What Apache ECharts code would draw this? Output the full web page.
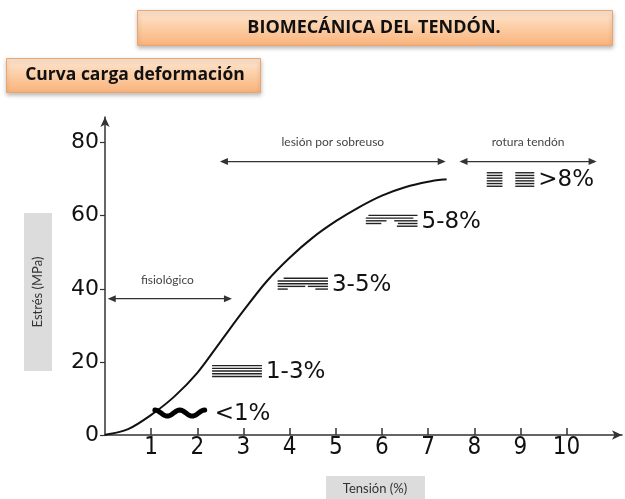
<!DOCTYPE html>
<html><head><meta charset="utf-8">
<script src="https://cdn.jsdelivr.net/npm/echarts@6/dist/echarts.min.js"></script>
<style>html,body{margin:0;padding:0;background:#fff}#c{width:625px;height:499px}</style>
</head><body><div id="c"></div>
<script>
// Curve: strain (%) vs stress (MPa)
var strain = [0, 0.5, 1, 1.5, 2, 2.5, 3, 3.5, 4, 4.5, 5, 5.5, 6, 6.5, 7, 7.4];
var stress = [0, 1.6, 5.5, 10.5, 17, 25.5, 34, 42, 48.5, 54, 58.5, 62.3, 65.5, 67.8, 69.3, 70];
var xTicks = [1, 2, 3, 4, 5, 6, 7, 8, 9, 10];
var yTicks = [0, 20, 40, 60, 80];

// Range annotations (data coords): from, to, at stress, label
var rangeNames = ['fisiológico', 'lesión por sobreuso', 'rotura tendón'];
var rangeFrom = [0.06, 2.49, 7.68];
var rangeTo = [2.75, 7.38, 10.65];
var rangeY = [37.3, 74.8, 74.8];

// Fibre-damage annotations: strain start/end of glyph, stress level, label
var dmgLabels = ['<1%', '1-3%', '3-5%', '5-8%', '>8%'];
var dmgFrom = [1.08, 2.32, 3.74, 5.65, 8.27];
var dmgTo = [2.16, 3.4, 4.83, 6.77, 9.3];
var dmgY = [6, 17.5, 41.4, 58.6, 69.9];

var chart = echarts.init(document.getElementById('c'));

// Smooth curve through the data points (Catmull-Rom in pixel space, via the axis scale)
function renderCurve(params, api) {
  if (params.dataIndex !== 0) return null;
  var p = strain.map(function (x, i) { return api.coord([x, stress[i]]); });
  var d = 'M' + p[0][0] + ' ' + p[0][1];
  for (var i = 0; i < p.length - 1; i++) {
    var p0 = p[Math.max(i - 1, 0)], p1 = p[i], p2 = p[i + 1], p3 = p[Math.min(i + 2, p.length - 1)];
    var c1x = p1[0] + (p2[0] - p0[0]) / 6, c1y = p1[1] + (p2[1] - p0[1]) / 6;
    var c2x = p2[0] - (p3[0] - p1[0]) / 6, c2y = p2[1] - (p3[1] - p1[1]) / 6;
    d += ' C' + c1x + ' ' + c1y + ' ' + c2x + ' ' + c2y + ' ' + p2[0] + ' ' + p2[1];
  }
  return {type: 'path', shape: {pathData: d}, style: {stroke: '#111', lineWidth: 2, fill: null}};
}

function arrowHead(x, y, dir) {
  return {type: 'polygon', shape: {points: [[x, y], [x - dir * 8, y - 3.5], [x - dir * 8, y + 3.5]]},
    style: {fill: '#333'}};
}

function renderRange(params, api) {
  var i = params.dataIndex;
  var a = api.coord([rangeFrom[i], rangeY[i]]);
  var b = api.coord([rangeTo[i], rangeY[i]]);
  var mid = (a[0] + b[0]) / 2;
  if (i === 0) mid = a[0] + (b[0] - a[0]) * 0.48;
  return {type: 'group', children: [
    {type: 'line', shape: {x1: a[0] + 2, y1: a[1], x2: b[0] - 2, y2: b[1]}, style: {stroke: '#333', lineWidth: 1.3}},
    arrowHead(a[0], a[1], -1), arrowHead(b[0], b[1], 1),
    {type: 'text', x: mid, y: a[1] - 19, style: {text: rangeNames[i], fill: '#444', font: '12px Lato', align: 'center', verticalAlign: 'middle'}}
  ]};
}

function stripeLines(x0, x1, yc, pattern) {
  var out = [];
  var n = pattern.length, gap = 2.7;
  var top = yc - (n - 1) * gap / 2;
  for (var r = 0; r < n; r++) {
    for (var s = 0; s < pattern[r].length; s++) {
      var seg = pattern[r][s];
      out.push({type: 'line', shape: {x1: x0 + (x1 - x0) * seg[0], y1: top + r * gap, x2: x0 + (x1 - x0) * seg[1], y2: top + r * gap},
        style: {stroke: '#222', lineWidth: 1.4}});
    }
  }
  return out;
}

function renderDmg(params, api) {
  var i = params.dataIndex;
  var a = api.coord([dmgFrom[i], dmgY[i]]);
  var b = api.coord([dmgTo[i], dmgY[i]]);
  var ch = [];
  if (i === 0) {
    var pts = [];
    var w = b[0] - a[0];
    for (var k = 0; k <= 40; k++) {
      var t = k / 40;
      pts.push([a[0] + w * t, a[1] - 3 * Math.cos(t * Math.PI * 4)]);
    }
    ch.push({type: 'polyline', shape: {points: pts}, style: {stroke: '#000', lineWidth: 5, lineCap: 'round', lineJoin: 'round', fill: null}});
  } else if (i === 1) {
    ch = stripeLines(a[0], b[0], a[1], [[[0, 1]], [[0, 1]], [[0, 1]], [[0, 1]], [[0, 1]]]);
  } else if (i === 2) {
    ch = stripeLines(a[0], b[0], a[1], [[[0.12, 1]], [[0, 1]], [[0, 1]], [[0, 0.55], [0.6, 1]], [[0, 0.2], [0.75, 1]]]);
  } else if (i === 3) {
    ch = stripeLines(a[0], b[0], a[1], [[[0.05, 1]], [[0, 0.92]], [[0, 0.4], [0.55, 1]], [[0, 0.3], [0.62, 1]], [[0.6, 1]]]);
  } else {
    var w2 = b[0] - a[0];
    ch = stripeLines(a[0], a[0] + w2 * 0.33, a[1], [[[0, 1]], [[0, 1]], [[0, 1]], [[0, 1]], [[0, 1]], [[0, 1]]])
      .concat(stripeLines(a[0] + w2 * 0.6, b[0], a[1], [[[0, 1]], [[0, 1]], [[0, 1]], [[0, 1]], [[0, 1]], [[0, 1]]]));
  }
  ch.push({type: 'text', x: b[0] + (i === 0 ? 10 : 4), y: a[1] + 1, style: {text: dmgLabels[i], fill: '#111', font: '23px "DejaVu Sans"', align: 'left', verticalAlign: 'middle'}});
  return {type: 'group', children: ch};
}

var orangeFill = new echarts.graphic.LinearGradient(0, 0, 0, 1, [
  {offset: 0, color: '#fde7d3'}, {offset: 0.5, color: '#fccda4'}, {offset: 1, color: '#f9b27a'}]);

chart.setOption({
  animation: false,
  backgroundColor: '#fff',
  grid: {left: 105, right: 3, top: 117, bottom: 64},
  graphic: [
    {type: 'rect', left: 137, top: 10, shape: {width: 475, height: 35},
      style: {fill: orangeFill, stroke: '#eea46c', lineWidth: 1, shadowBlur: 4, shadowColor: 'rgba(0,0,0,0.25)', shadowOffsetY: 2}},
    {type: 'text', x: 374, y: 28, style: {text: 'BIOMECÁNICA DEL TENDÓN.', fill: '#111', font: 'bold 18px "Open Sans"', align: 'center', verticalAlign: 'middle'}},
    {type: 'rect', left: 6, top: 58, shape: {width: 254, height: 34},
      style: {fill: orangeFill, stroke: '#eea46c', lineWidth: 1, shadowBlur: 4, shadowColor: 'rgba(0,0,0,0.25)', shadowOffsetY: 2}},
    {type: 'text', x: 135, y: 75, style: {text: 'Curva carga deformación', fill: '#111', font: 'bold 17.5px "Open Sans"', align: 'center', verticalAlign: 'middle'}},
    {type: 'rect', left: 24, top: 213, shape: {width: 28, height: 158}, style: {fill: '#dcdcdc'}},
    {type: 'text', x: 38, y: 292, rotation: Math.PI / 2, style: {text: 'Estrés (MPa)', fill: '#333', font: '13px Lato', align: 'center', verticalAlign: 'middle'}},
    {type: 'rect', left: 326, top: 476, shape: {width: 99, height: 23}, style: {fill: '#dcdcdc'}},
    {type: 'text', x: 375, y: 489, style: {text: 'Tensión (%)', fill: '#333', font: '13px Lato', align: 'center', verticalAlign: 'middle'}}
  ],
  xAxis: {
    type: 'value', min: 0, max: 11.2, interval: 1,
    axisLine: {lineStyle: {color: '#333', width: 1.5}, symbol: ['none', 'arrow'], symbolSize: [7, 10]},
    axisTick: {inside: true, length: 7, lineStyle: {color: '#333', width: 1.5}, customValues: xTicks},
    axisLabel: {customValues: xTicks, color: '#111', fontSize: 24, fontFamily: '"DejaVu Sans Condensed", "DejaVu Sans"', margin: 1},
    splitLine: {show: false}
  },
  yAxis: {
    type: 'value', min: 0, max: 87, interval: 20,
    axisLine: {show: true, lineStyle: {color: '#333', width: 1.5}, symbol: ['none', 'arrow'], symbolSize: [7, 10]},
    axisTick: {show: true, length: 5, lineStyle: {color: '#333', width: 1.2}, customValues: yTicks},
    axisLabel: {customValues: yTicks, color: '#111', fontSize: 22, fontFamily: 'DejaVu Sans', margin: 6},
    splitLine: {show: false}
  },
  series: [
    {type: 'custom', renderItem: renderCurve, data: strain.map(function (x, i) { return [x, stress[i]]; }), z: 3, clip: false},
    {type: 'custom', renderItem: renderRange, data: rangeNames.map(function (n, i) { return [rangeFrom[i], rangeY[i]]; }), z: 4, clip: false},
    {type: 'custom', renderItem: renderDmg, data: dmgLabels.map(function (n, i) { return [dmgFrom[i], dmgY[i]]; }), z: 4, clip: false}
  ]
});
</script></body></html>
